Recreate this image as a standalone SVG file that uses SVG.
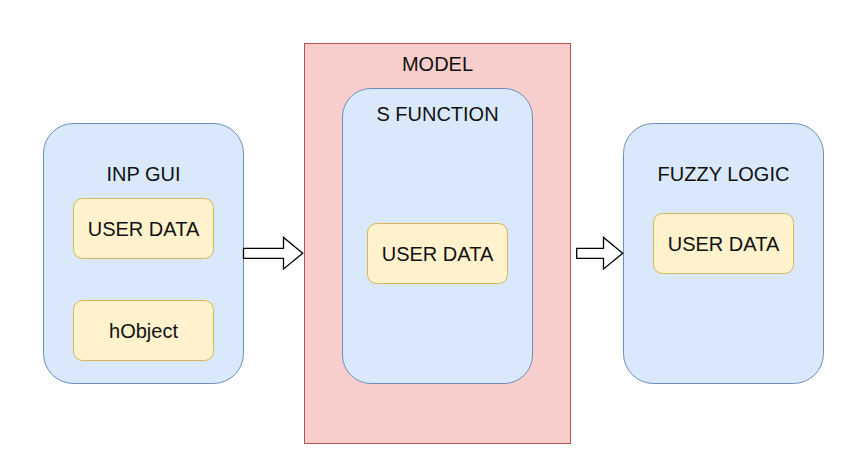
<svg xmlns="http://www.w3.org/2000/svg" width="842" height="462" viewBox="0 0 842 462">
<style>
.blue{fill:#dae8fc;stroke:#6c8ebf;stroke-width:1}
.yel{fill:#fff2cc;stroke:#d6b656;stroke-width:1}
.red{fill:#f8cecc;stroke:#b85450;stroke-width:1}
.arr{fill:#ffffff;stroke:#000000;stroke-width:1.3;stroke-linejoin:miter}
text{font-family:"Liberation Sans",Arial,sans-serif;font-size:20px;fill:#111111;text-anchor:middle}
</style>
<rect width="842" height="462" fill="#ffffff"/>
<g id="inp-gui">
<rect class="blue" x="43.5" y="123.5" width="200" height="260" rx="30"/>
<text x="143.5" y="181">INP GUI</text>
</g>
<g id="inp-user-data">
<rect class="yel" x="73.5" y="198.5" width="140" height="60" rx="9"/>
<text x="143.5" y="235.5">USER DATA</text>
</g>
<g id="hobject">
<rect class="yel" x="73.5" y="300.5" width="140" height="60" rx="9"/>
<text x="143.5" y="338">hObject</text>
</g>
<g id="model">
<rect class="red" x="304.5" y="43.5" width="266" height="400"/>
<text x="437.5" y="71">MODEL</text>
</g>
<g id="s-function">
<rect class="blue" x="342.5" y="88.5" width="190" height="295" rx="28.5"/>
<text x="437.5" y="121">S FUNCTION</text>
</g>
<g id="model-user-data">
<rect class="yel" x="367.5" y="223.5" width="140" height="60" rx="9"/>
<text x="437.5" y="260.5">USER DATA</text>
</g>
<g id="fuzzy-logic">
<rect class="blue" x="623.5" y="123.5" width="200" height="260" rx="30"/>
<text x="723.5" y="181">FUZZY LOGIC</text>
</g>
<g id="fuzzy-user-data">
<rect class="yel" x="653.5" y="213.5" width="140" height="60" rx="9"/>
<text x="723.5" y="250.5">USER DATA</text>
</g>
<g id="connectors">
<path class="arr" d="M243.5,248.3 L283.5,248.3 L283.5,237.5 L302.7,253.3 L283.5,269 L283.5,258.3 L243.5,258.3 Z"/>
<path class="arr" d="M576.7,248.3 L603.5,248.3 L603.5,237.5 L622.7,253.3 L603.5,269 L603.5,258.3 L576.7,258.3 Z"/>
</g>
</svg>
